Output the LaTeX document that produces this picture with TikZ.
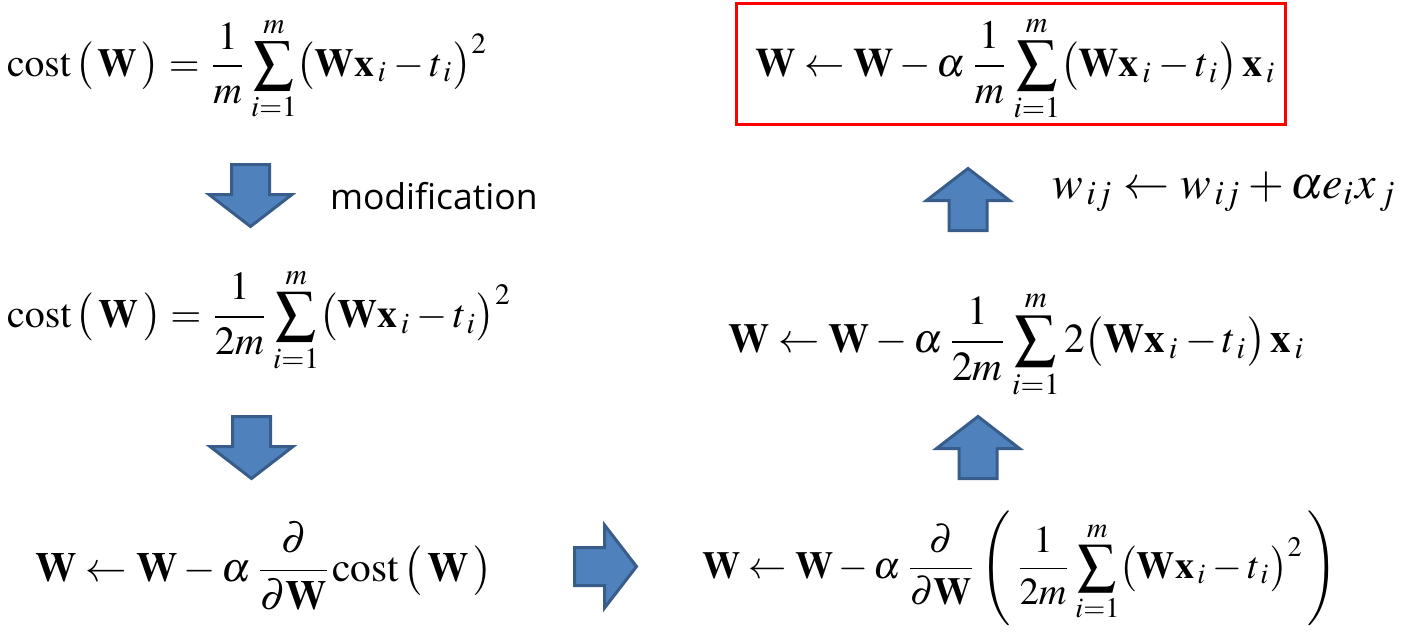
\documentclass[tikz,border=0pt]{standalone}
\usepackage[no-math]{fontspec}
\newfontfamily\labelfont{Open Sans}
\usepackage{mathptmx}
\usepackage{graphicx}
\definecolor{arrfill}{HTML}{4F81BD}
\definecolor{arrline}{HTML}{385D8A}
\newcommand\fitmath[2]{\resizebox{#1}{!}{$\displaystyle #2$}}
\newcommand\lp{\bigl(}
\newcommand\rp{\bigr)}
\newcommand\costW{\mathrm{cost}\,\lp\,\mathbf{W}\,\rp}
\tikzset{
  formula/.style={anchor=base west, inner sep=0pt, outer sep=0pt},
  arrowstyle/.style={fill=arrfill, draw=arrline, line width=3pt, line join=miter},
  blockarrow/.pic={
    \path[arrowstyle] (-19,0) -- (-19,30) -- (-41.5,30) -- (0,62) -- (41.5,30)
      -- (19,30) -- (19,0) -- cycle;
  },
  redbox/.style={draw=red, line width=3.5pt, inner sep=0pt, minimum width=549pt, minimum height=121pt},
}
\begin{document}
\begin{tikzpicture}[x=1pt, y=-1pt]
\useasboundingbox[fill=white] (0,0) rectangle (1409,633);

% left column
\node[formula] (f1) at (7,76)
  {\fitmath{481pt}{\costW=\frac{1}{m}\sum_{i=1}^{m}\lp\mathbf{W}\mathbf{x}_{\,i}-t_{\,i}\rp^{2}}};
\node[formula] (f2) at (7,327)
  {\fitmath{505pt}{\costW=\frac{1}{2m}\sum_{i=1}^{m}\lp\mathbf{W}\mathbf{x}_{\,i}-t_{\,i}\rp^{2}}};
\node[formula] (f3) at (35,581)
  {\fitmath{457pt}{\mathbf{W}\leftarrow\mathbf{W}-\alpha\,\frac{\partial}{\partial\mathbf{W}}\costW}};

% right column
\node[formula] (f6) at (702,578)
  {\fitmath{636pt}{\mathbf{W}\leftarrow\mathbf{W}-\alpha\,\frac{\partial}{\partial\mathbf{W}}\left(\,\frac{1}{2m}\sum_{i=1}^{m}\lp\mathbf{W}\mathbf{x}_{\,i}-t_{\,i}\rp^{2}\,\right)}};
\node[formula] (f5) at (728,352)
  {\fitmath{577pt}{\mathbf{W}\leftarrow\mathbf{W}-\alpha\,\frac{1}{2m}\sum_{i=1}^{m}2\lp\mathbf{W}\mathbf{x}_{\,i}-t_{\,i}\rp\,\mathbf{x}_{\,i}}};
\node[formula] (f4) at (755,76)
  {\fitmath{521pt}{\mathbf{W}\leftarrow\mathbf{W}-\alpha\,\frac{1}{m}\sum_{i=1}^{m}\lp\mathbf{W}\mathbf{x}_{\,i}-t_{\,i}\rp\,\mathbf{x}_{\,i}}};
\node[redbox] (box) at (1011,64) {};
\node[formula] (wij) at (1052,198)
  {\fitmath{345pt}{w_{\,ij}\leftarrow w_{\,ij}+\alpha e_{i}x_{\,j}}};

\node[formula] (mod) at (330,209) {\fontsize{35.5pt}{42pt}\selectfont\labelfont modification};

% block arrows
\pic (a1) at (250.5,164.5) {blockarrow};
\pic (a2) at (251.5,416.5) {blockarrow};
\pic[rotate=90] (a3) at (574.5,566.5) {blockarrow};
\pic[rotate=180] (a4) at (978,478.5) {blockarrow};
\pic[rotate=180] (a5) at (968,230.5) {blockarrow};
\end{tikzpicture}
\end{document}
